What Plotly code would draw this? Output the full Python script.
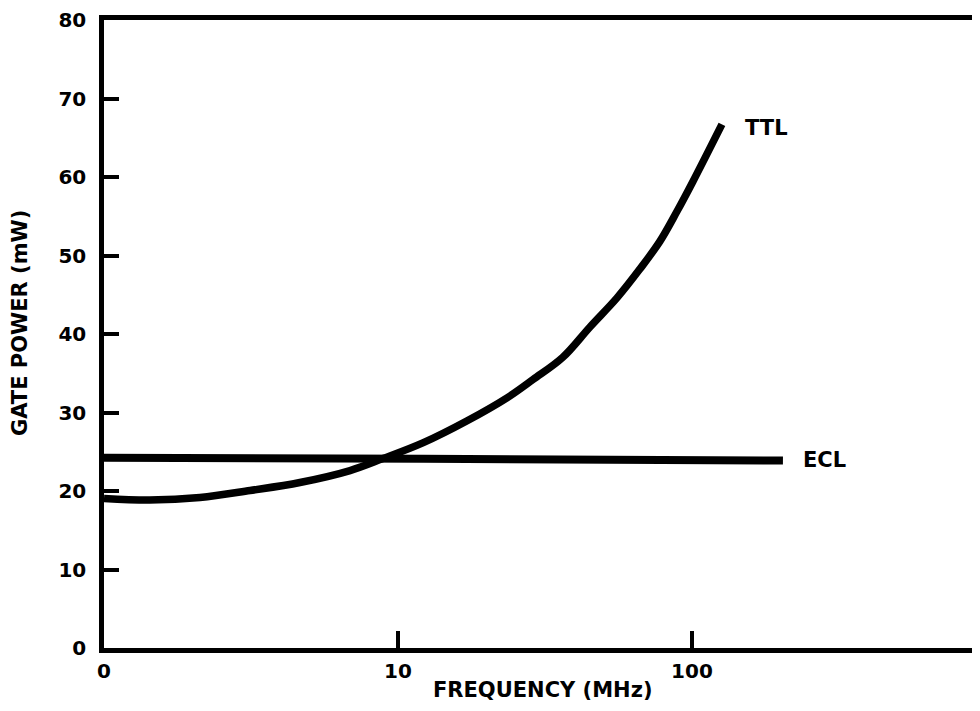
import plotly.graph_objects as go

# TTL gate power (mW) vs frequency (MHz)
ttl_freq = [1.0, 1.43, 2.12, 3.14, 4.64, 6.87, 8.89, 12.2, 17.2, 23.5, 28.8, 36.3, 45.0, 55.6, 66.6, 77.8, 88.9, 100.7, 126.5]
ttl_power = [19.05, 18.85, 19.17, 20.06, 21.08, 22.6, 24.13, 26.16, 28.95, 31.87, 34.2, 37.0, 40.9, 44.6, 48.3, 51.8, 55.6, 59.4, 66.7]

# ECL gate power (mW) vs frequency (MHz)
ecl_freq = [1.0, 12.2, 204]
ecl_power = [24.25, 24.1, 23.87]

x_tickvals = [1, 10, 100]
x_ticktext = ["0", "10", "100"]
y_tickvals = [0, 10, 20, 30, 40, 50, 60, 70, 80]

FONT = "DejaVu Sans"

fig = go.Figure()
fig.add_trace(go.Scatter(x=ttl_freq, y=ttl_power, mode="lines",
                         line=dict(color="black", width=7.5, shape="spline", smoothing=1.0),
                         showlegend=False, hoverinfo="skip"))
fig.add_trace(go.Scatter(x=ecl_freq, y=ecl_power, mode="lines",
                         line=dict(color="black", width=8, shape="spline"),
                         showlegend=False, hoverinfo="skip"))

fig.add_annotation(x=2.255, y=66.2, xref="x", yref="y", text="TTL", showarrow=False,
                   xanchor="center", yanchor="middle",
                   font=dict(family=FONT, size=21, color="black", weight="bold"))
fig.add_annotation(x=2.452, y=23.9, xref="x", yref="y", text="ECL", showarrow=False,
                   xanchor="center", yanchor="middle",
                   font=dict(family=FONT, size=21, color="black", weight="bold"))

fig.add_annotation(x=0.501, y=-0.0667, xref="paper", yref="paper", text="FREQUENCY (MHz)",
                   showarrow=False, xanchor="center", yanchor="middle",
                   font=dict(family=FONT, size=21, color="black", weight="bold"))
fig.add_annotation(x=-0.0959, y=0.5175, xref="paper", yref="paper", text="GATE POWER (mW)",
                   textangle=-90, showarrow=False, xanchor="center", yanchor="middle",
                   font=dict(family=FONT, size=21, color="black", weight="bold"))

fig.update_xaxes(type="log", range=[0, 2.98], tickvals=x_tickvals, ticktext=x_ticktext,
                 ticks="inside", ticklen=17, tickwidth=4, tickcolor="black",
                 showline=True, linecolor="black", linewidth=4.5, mirror=True,
                 showgrid=False, zeroline=False, ticklabelstandoff=1,
                 ticklabeloverflow="allow",
                 tickfont=dict(family=FONT, size=20, color="black", weight="bold"))
fig.update_yaxes(range=[0, 80], tickvals=y_tickvals,
                 ticks="inside", ticklen=15, tickwidth=4, tickcolor="black",
                 showline=True, linecolor="black", linewidth=4.5,
                 showgrid=False, zeroline=False, ticklabelstandoff=9,
                 ticklabeloverflow="allow",
                 tickfont=dict(family=FONT, size=20, color="black", weight="bold"))

fig.update_layout(width=972, height=703, margin=dict(l=96, r=0, t=10, b=63),
                  plot_bgcolor="white", paper_bgcolor="white")

fig.write_html("out.html")
